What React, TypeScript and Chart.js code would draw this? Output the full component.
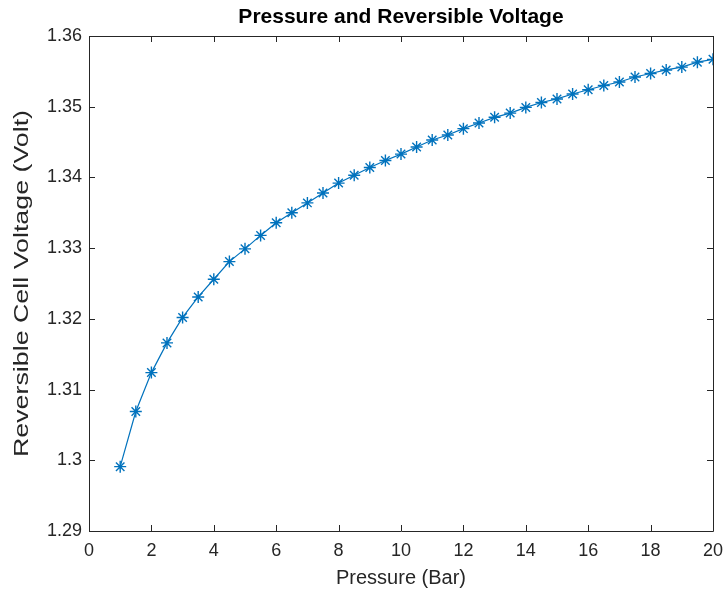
import React, { useEffect, useRef } from "react";
import { Chart, registerables } from "chart.js";

Chart.register(...registerables);

const pressureBar: number[] = [
  1, 1.5, 2, 2.5, 3, 3.5, 4, 4.5, 5, 5.5, 6, 6.5, 7, 7.5, 8, 8.5, 9, 9.5, 10,
  10.5, 11, 11.5, 12, 12.5, 13, 13.5, 14, 14.5, 15, 15.5, 16, 16.5, 17, 17.5,
  18, 18.5, 19, 19.5, 20,
];
const voltage: number[] = [
  1.2991, 1.3069, 1.3124, 1.3166, 1.3202, 1.3231, 1.3256, 1.3281, 1.3299,
  1.3318, 1.3336, 1.335, 1.3364, 1.3378, 1.3392, 1.3403, 1.3414, 1.3424,
  1.3433, 1.3443, 1.3453, 1.346, 1.3469, 1.3477, 1.3485, 1.3491, 1.3499,
  1.3506, 1.3511, 1.3518, 1.3524, 1.353, 1.3535, 1.3542, 1.3547, 1.3552,
  1.3556, 1.3563, 1.3567,
];
const xTicks: number[] = [0, 2, 4, 6, 8, 10, 12, 14, 16, 18, 20];
const yTicks: number[] = [1.29, 1.3, 1.31, 1.32, 1.33, 1.34, 1.35, 1.36];

const titleText = "Pressure and Reversible Voltage";
const xTitle = "Pressure (Bar)";
const yTitle = "Reversible Cell Voltage (Volt)";

const FONT = "'Liberation Sans', Arial, Helvetica, sans-serif";
const AXIS_COLOR = "#262626";
const LINE_COLOR = "#0072BD";

const boxPlugin = {
  id: "matlabBox",
  afterDraw(chart: any) {
    const { ctx, chartArea } = chart;
    const xs = chart.scales.x;
    const ys = chart.scales.y;
    const { left, right, top, bottom } = chartArea;
    const tl = 6;
    ctx.save();
    ctx.strokeStyle = AXIS_COLOR;
    ctx.lineWidth = 1;
    ctx.beginPath();
    ctx.rect(Math.round(left) + 0.5, Math.round(top) + 0.5, Math.round(right - left), Math.round(bottom - top));
    xTicks.forEach((v) => {
      const px = Math.round(xs.getPixelForValue(v)) + 0.5;
      ctx.moveTo(px, bottom);
      ctx.lineTo(px, bottom - tl);
      ctx.moveTo(px, top);
      ctx.lineTo(px, top + tl);
    });
    yTicks.forEach((v) => {
      const py = Math.round(ys.getPixelForValue(v)) + 0.5;
      ctx.moveTo(left, py);
      ctx.lineTo(left + tl, py);
      ctx.moveTo(right, py);
      ctx.lineTo(right - tl, py);
    });
    ctx.stroke();
    // title centred over the plot area, as MATLAB does
    ctx.fillStyle = "#000000";
    ctx.font = `bold 21px ${FONT}`;
    ctx.textAlign = "center";
    ctx.textBaseline = "middle";
    ctx.fillText(titleText, (left + right) / 2, 17);
    // y-axis title (elongated along its length, like the reference)
    ctx.fillStyle = AXIS_COLOR;
    ctx.font = `20px ${FONT}`;
    ctx.translate(22, (top + bottom) / 2);
    ctx.rotate(-Math.PI / 2);
    ctx.scale(1.34, 1);
    ctx.fillText(yTitle, 0, 0);
    ctx.restore();
  },
};

export default function App() {
  const ref = useRef<HTMLCanvasElement | null>(null);

  useEffect(() => {
    if (!ref.current) return;
    const chart = new Chart(ref.current, {
      type: "line",
      data: {
        datasets: [
          {
            data: pressureBar.map((p, i) => ({ x: p, y: voltage[i] })),
            borderColor: LINE_COLOR,
            backgroundColor: LINE_COLOR,
            borderWidth: 1.2,
            pointStyle: "star",
            pointRadius: 6,
            pointBorderWidth: 1.4,
            pointBorderColor: LINE_COLOR,
            tension: 0,
            fill: false,
          },
        ],
      },
      options: {
        responsive: false,
        animation: false,
        layout: { padding: { top: 36, right: 15, left: 0, bottom: 0 } },
        plugins: {
          legend: { display: false },
          tooltip: { enabled: false },
          title: { display: false },
        },
        scales: {
          x: {
            type: "linear",
            min: 0,
            max: 20,
            afterBuildTicks: (scale: any) => {
              scale.ticks = xTicks.map((v) => ({ value: v }));
            },
            afterFit: (scale: any) => {
              scale.height = 65;
              scale.paddingLeft = 0;
              scale.paddingRight = 0;
            },
            ticks: {
              color: AXIS_COLOR,
              font: { family: FONT, size: 18 },
              padding: 9,
              maxRotation: 0,
              autoSkip: false,
            },
            grid: { display: false, drawTicks: false },
            border: { display: false },
            title: {
              display: true,
              text: xTitle,
              color: AXIS_COLOR,
              font: { family: FONT, size: 20 },
              padding: { top: 0, bottom: 6 },
            },
          },
          y: {
            type: "linear",
            min: 1.29,
            max: 1.36,
            afterBuildTicks: (scale: any) => {
              scale.ticks = yTicks.map((v) => ({ value: v }));
            },
            afterFit: (scale: any) => {
              scale.width = 89;
            },
            ticks: {
              color: AXIS_COLOR,
              font: { family: FONT, size: 18 },
              padding: 7,
              autoSkip: false,
              callback: (v: any) => String(Number(Number(v).toFixed(2))),
            },
            grid: { display: false, drawTicks: false },
            border: { display: false },
            title: { display: false },
          },
        },
      },
      plugins: [boxPlugin],
    });
    return () => chart.destroy();
  }, []);

  return (
    <div style={{ position: "fixed", left: 0, top: 0, width: 728, height: 596, background: "#ffffff" }}>
      <canvas ref={ref} width={728} height={596} style={{ display: "block", width: 728, height: 596 }} />
    </div>
  );
}
